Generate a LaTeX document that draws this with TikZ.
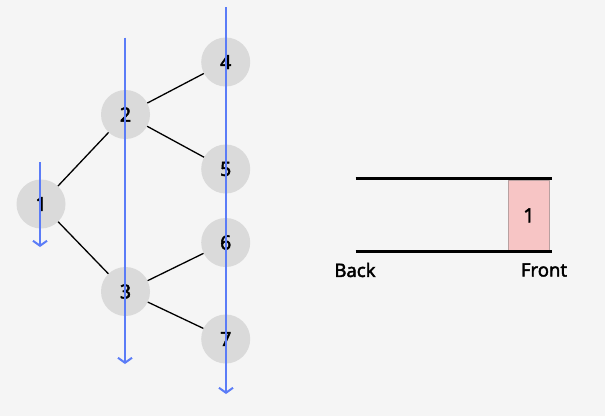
\documentclass[tikz,border=0pt]{standalone}
\usepackage{fontspec}
\setmainfont{Noto Sans}[AutoFakeBold=2.2]
\usetikzlibrary{arrows.meta}
\definecolor{bg}{HTML}{F5F5F5}
\definecolor{nodefill}{HTML}{DADADA}
\definecolor{scan}{HTML}{5B7CF7}
\definecolor{qfill}{HTML}{F7C5C5}
\definecolor{qdraw}{HTML}{B8A0A0}
\begin{document}
\begin{tikzpicture}[x=1pt,y=-1pt,
  tnode/.style={circle,fill=nodefill,minimum size=49pt,inner sep=0pt,font=\fontsize{19.5}{19.5}\selectfont\bfseries},
  edge/.style={draw=black,line width=1.3pt},
  scanline/.style={draw=scan,line width=2pt,-{Straight Barb[length=5pt,width=14pt,line width=2pt]}},
  rail/.style={draw=black,line width=3pt},
  lbl/.style={font=\fontsize{18.5}{18.5}\selectfont\bfseries,inner sep=0pt}]
\fill[bg] (0,0) rectangle (605,416);
\useasboundingbox (0,0) rectangle (605,416);
\node[tnode] (n1) at (41,204) {1};
\node[tnode] (n2) at (125.5,114.5) {2};
\node[tnode] (n3) at (125.5,291.5) {3};
\node[tnode] (n4) at (225.7,62) {4};
\node[tnode] (n5) at (225.7,169) {5};
\node[tnode] (n6) at (225.7,242.5) {6};
\node[tnode] (n7) at (225.7,339) {7};
\draw[edge] (n1) -- (n2);
\draw[edge] (n1) -- (n3);
\draw[edge] (n2) -- (n4);
\draw[edge] (n2) -- (n5);
\draw[edge] (n3) -- (n6);
\draw[edge] (n3) -- (n7);
\coordinate (s1a) at (40,162);
\coordinate (s1b) at (40,247);
\coordinate (s2a) at (125,37.7);
\coordinate (s2b) at (125,364);
\coordinate (s3a) at (226,7.3);
\coordinate (s3b) at (226,394);
\draw[scanline] (s1a) -- (s1b);
\draw[scanline] (s2a) -- (s2b);
\draw[scanline] (s3a) -- (s3b);
\node[draw=qdraw,fill=qfill,line width=0.8pt,minimum width=41.5pt,minimum height=71pt,inner sep=0pt,anchor=north west,font=\fontsize{19.5}{19.5}\selectfont\bfseries] (q1) at (507.7,179.5) {1};
\coordinate (ta) at (355.7,178.3);
\coordinate (tb) at (551.7,178.3);
\coordinate (ba) at (355.7,251);
\coordinate (bb) at (551.7,251);
\draw[rail] (ta) -- (tb);
\draw[rail] (ba) -- (bb);
\node[lbl] (back) at (355,270) {Back};
\node[lbl] (front) at (544,270) {Front};
\end{tikzpicture}
\end{document}
